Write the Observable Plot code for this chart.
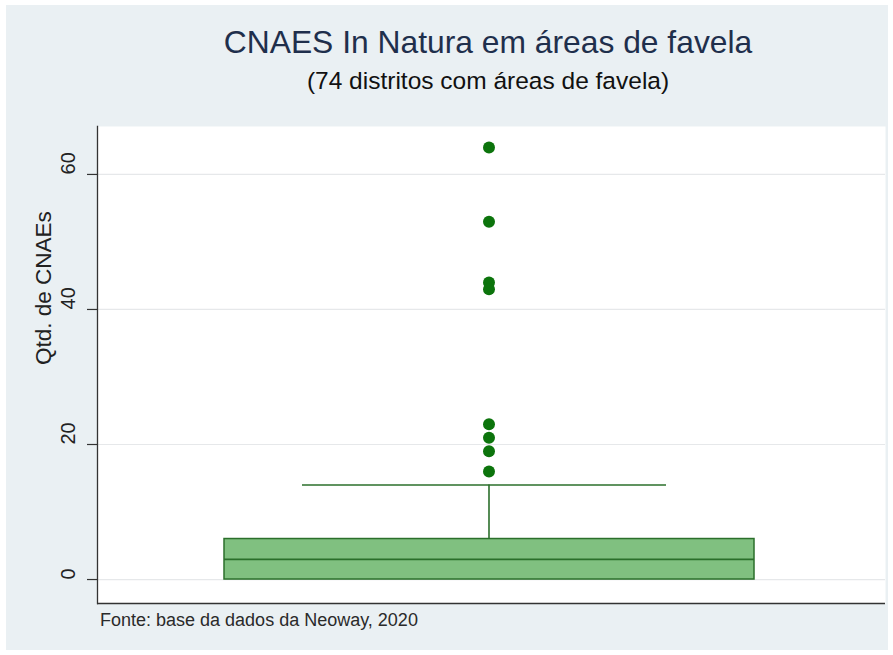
<!DOCTYPE html>
<html>
<head>
<meta charset="utf-8">
<script src="https://cdn.jsdelivr.net/npm/d3@7"></script>
<script src="https://cdn.jsdelivr.net/npm/@observablehq/plot@0.6"></script>
<style>
  html, body { margin: 0; padding: 0; background: #ffffff; }
  body { width: 893px; height: 655px; position: relative; overflow: hidden;
         font-family: "Liberation Sans", Arial, sans-serif; }
  #panel { position: absolute; left: 6px; top: 5px; width: 882px; height: 645px; background: #eaf0f3; }
  #title { position: absolute; left: 94px; width: 788px; top: 24px; text-align: center;
           font-size: 31.8px; color: #1f2f4c; line-height: 36px; white-space: nowrap; }
  #subtitle { position: absolute; left: 94px; width: 788px; top: 67px; text-align: center;
              font-size: 24.5px; color: #111; line-height: 28px; white-space: nowrap; }
  #chart { position: absolute; left: 0; top: 110px; }
  #caption { position: absolute; left: 100px; top: 610px; font-size: 18px; color: #2a2a2a; line-height: 20px; }
</style>
</head>
<body>
<div id="panel"></div>
<div id="title">CNAES In Natura em áreas de favela</div>
<div id="subtitle">(74 distritos com áreas de favela)</div>
<div id="chart"></div>
<div id="caption">Fonte: base da dados da Neoway, 2020</div>
<script>
// ---- data ----
const groups = ["CNAEs"];
const q1 = [0];
const median = [3];
const q3 = [6];
const whiskerLow = [0];
const whiskerHigh = [14];
const outliers = [64, 53, 44, 43, 23, 21, 19, 16];
const yTicks = [0, 20, 40, 60];
const yLabel = "Qtd. de CNAEs";

const stats = groups.map((g, i) => ({
  group: g, q1: q1[i], median: median[i], q3: q3[i], lo: whiskerLow[i], hi: whiskerHigh[i]
}));
const outlierRows = outliers.map(v => ({group: groups[0], value: v}));

const dark = "#2b6f2b";
const plot = Plot.plot({
  width: 893,
  height: 495,
  marginLeft: 97,
  marginRight: 8,
  marginTop: 16,
  marginBottom: 2,
  style: {background: "transparent", fontFamily: "'Liberation Sans', Arial, sans-serif"},
  x: {type: "band", domain: groups, padding: 0.2, axis: null},
  y: {domain: [-3.55, 67.1], axis: null},
  marks: [
    Plot.frame({fill: "white", stroke: null}),
    Plot.gridY(yTicks, {stroke: "#e6e8ea", strokeOpacity: 1, strokeWidth: 1.2}),
    Plot.axisY({ticks: yTicks, tickSize: 10, tickFormat: () => "", stroke: "#333", strokeWidth: 1.2}),
    Plot.text(yTicks, {y: d => d, text: d => String(d), frameAnchor: "left", dx: -29, rotate: -90,
                       fontSize: 20, fill: "#222"}),
    Plot.text([yLabel], {text: d => d, frameAnchor: "left", dx: -54, rotate: -90, fontSize: 22.5, fill: "#222"}),
    Plot.ruleX(stats, {x: "group", y1: "q3", y2: "hi", dx: -3, stroke: dark, strokeWidth: 1.6}),
    Plot.tickY(stats, {x: "group", y: "hi", insetLeft: 73, insetRight: 88, stroke: dark, strokeWidth: 1.6}),
    Plot.barY(stats, {x: "group", y1: "q1", y2: "q3", fill: "#80c080", stroke: dark, strokeWidth: 1.5, insetLeft: -5}),
    Plot.tickY(stats, {x: "group", y: "median", insetLeft: -5, stroke: dark, strokeWidth: 1.8}),
    Plot.dot(outlierRows, {x: "group", y: "value", dx: -3, r: 6, fill: "#0c740c", stroke: null}),
    Plot.frame({anchor: "left", stroke: "#333", strokeWidth: 1.3}),
    Plot.ruleY([-3.55], {stroke: "#333", strokeWidth: 1.3})
  ]
});
document.getElementById("chart").appendChild(plot);
</script>
</body>
</html>
